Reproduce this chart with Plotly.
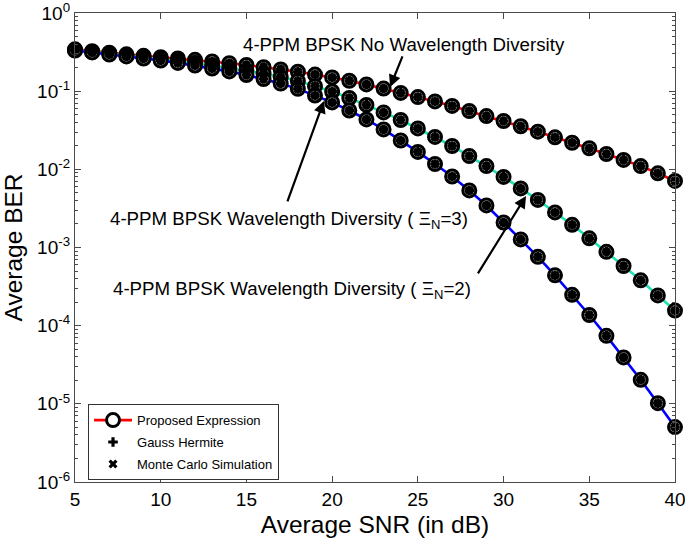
import plotly.graph_objects as go

snr_db = list(range(5, 41))

ber_no_div = [0.343, 0.325, 0.31, 0.296, 0.283, 0.272, 0.262, 0.252, 0.24, 0.228,
              0.216, 0.203, 0.19, 0.177, 0.163, 0.15, 0.136, 0.122, 0.108, 0.095,
              0.084, 0.074, 0.0647, 0.0558, 0.048, 0.0415, 0.0356, 0.0303, 0.0257, 0.0219,
              0.0186, 0.0157, 0.0132, 0.011, 0.0089, 0.0071]

ber_div3 = [0.336, 0.317, 0.303, 0.286, 0.27, 0.258, 0.243, 0.23, 0.213, 0.198,
            0.184, 0.168, 0.152, 0.135, 0.116, 0.0991, 0.0818, 0.0667, 0.0535, 0.0428,
            0.0334, 0.026, 0.0199, 0.0148, 0.011, 0.008, 0.0057, 0.00406, 0.00281, 0.00195,
            0.00131, 0.00088, 0.00058, 0.00038, 0.000244, 0.000156]

ber_div2 = [0.331, 0.313, 0.294, 0.278, 0.262, 0.247, 0.23, 0.213, 0.195, 0.179,
            0.161, 0.143, 0.125, 0.107, 0.0881, 0.0718, 0.0566, 0.0435, 0.0324, 0.0234,
            0.0167, 0.0117, 0.0081, 0.00537, 0.00345, 0.00209, 0.00127, 0.00076, 0.00044, 0.000248,
            0.000137, 0.0000741, 0.0000392, 0.0000203, 0.0000102, 0.00000504]

series = [("No Wavelength Diversity", ber_no_div, "#ff0000"),
          ("Diversity 3", ber_div3, "#1de3b0"),
          ("Diversity 2", ber_div2, "#0000ff")]

x_ticks = [5, 10, 15, 20, 25, 30, 35, 40]
y_exponents = [-6, -5, -4, -3, -2, -1, 0]
legend_names = ["Proposed Expression", "Gauss Hermite", "Monte Carlo Simulation"]

FONT = "Liberation Sans, Arial, sans-serif"
AXC = "#4a4a4a"

fig = go.Figure()

for i, (name, ber, color) in enumerate(series):
    fig.add_trace(go.Scatter(
        x=snr_db, y=ber, mode="lines+markers", name=legend_names[0],
        showlegend=(i == 0), legendgroup="a", legendrank=1, cliponaxis=False,
        line=dict(color=color, width=2.6),
        marker=dict(symbol="circle", size=13, color="white",
                    line=dict(color="black", width=3))))

for i, (name, ber, color) in enumerate(series):
    fig.add_trace(go.Scatter(
        x=snr_db, y=ber, mode="markers", name=legend_names[1],
        showlegend=(i == 0), legendgroup="b", legendrank=2, cliponaxis=False,
        marker=dict(symbol="cross", size=8, color="black")))
    fig.add_trace(go.Scatter(
        x=snr_db, y=ber, mode="markers", name=legend_names[2],
        showlegend=(i == 0), legendgroup="c", legendrank=3, cliponaxis=False,
        marker=dict(symbol="x", size=8, color="black")))

minor_vals = [k * 10.0 ** e for e in range(-6, 0) for k in range(2, 10)]

fig.update_xaxes(
    range=[5, 40], tickvals=x_ticks, automargin=False, ticklabeloverflow="allow",
    ticks="inside", ticklen=6, tickcolor=AXC, tickwidth=1,
    showline=True, linecolor=AXC, linewidth=1.3, mirror="ticks",
    showgrid=False, zeroline=False,
    tickfont=dict(family=FONT, size=19, color="black"),
    title=dict(text="Average SNR (in dB)", font=dict(family=FONT, size=24.5, color="black"),
               standoff=6))

fig.update_layout(yaxis=dict(
    type="log", range=[-6, 0], automargin=False, ticklabeloverflow="allow",
    tickvals=[10.0 ** e for e in y_exponents],
    ticktext=["10<sup>%d</sup>" % e for e in y_exponents],
    ticks="inside", ticklen=6, tickcolor=AXC, tickwidth=1,
    showline=True, linecolor=AXC, linewidth=1.3, mirror="ticks",
    showgrid=False, zeroline=False,
    tickfont=dict(family=FONT, size=19, color="black"),
    title=dict(text="Average BER", font=dict(family=FONT, size=24.5, color="black"),
               standoff=21)))

# minor log ticks on an overlaid axis
fig.update_layout(yaxis2=dict(
    type="log", range=[-6, 0], overlaying="y", side="left", automargin=False,
    tickvals=minor_vals, showticklabels=False,
    ticks="inside", ticklen=3, tickcolor=AXC, tickwidth=1,
    showline=False, mirror="ticks", showgrid=False, zeroline=False))
fig.add_trace(go.Scatter(x=[None], y=[None], yaxis="y2", showlegend=False, hoverinfo="skip"))

afont = dict(family=FONT, size=18.7, color="black")
texts = [
    ("4-PPM BPSK No Wavelength Diversity", 0.5475, 0.932),
    ("4-PPM BPSK Wavelength Diversity ( \u039e<sub>N</sub>=3)", 0.356, 0.559),
    ("4-PPM BPSK Wavelength Diversity ( \u039e<sub>N</sub>=2)", 0.361, 0.409),
]
for t, xp, yp in texts:
    fig.add_annotation(text=t, xref="paper", yref="paper", x=xp, y=yp,
                       xanchor="center", yanchor="middle", showarrow=False, font=afont)

arrows = [(23.38, -0.946, 13, -32), (19.52, -1.125, -37, 102), (31.31, -2.34, -49, 79)]
for hx, hy, ax, ay in arrows:
    fig.add_annotation(text="", x=hx, y=hy, xref="x", yref="y", ax=ax, ay=ay,
                       axref="pixel", ayref="pixel", showarrow=True,
                       arrowhead=2, arrowsize=1.1, arrowwidth=2.2, arrowcolor="black")

fig.update_layout(
    width=685, height=549,
    margin=dict(l=75, r=10, t=13, b=67),
    paper_bgcolor="white", plot_bgcolor="white",
    legend=dict(x=0.0217, y=0.166, xanchor="left", yanchor="top",
                bgcolor="white", bordercolor="#333333", borderwidth=1,
                font=dict(family=FONT, size=13, color="black"),
                itemwidth=38, tracegroupgap=2, traceorder="grouped"),
)

fig.write_html("out.html", config={"displayModeBar": False},
               post_script="document.body.style.margin='0';document.body.style.overflow='hidden';")
